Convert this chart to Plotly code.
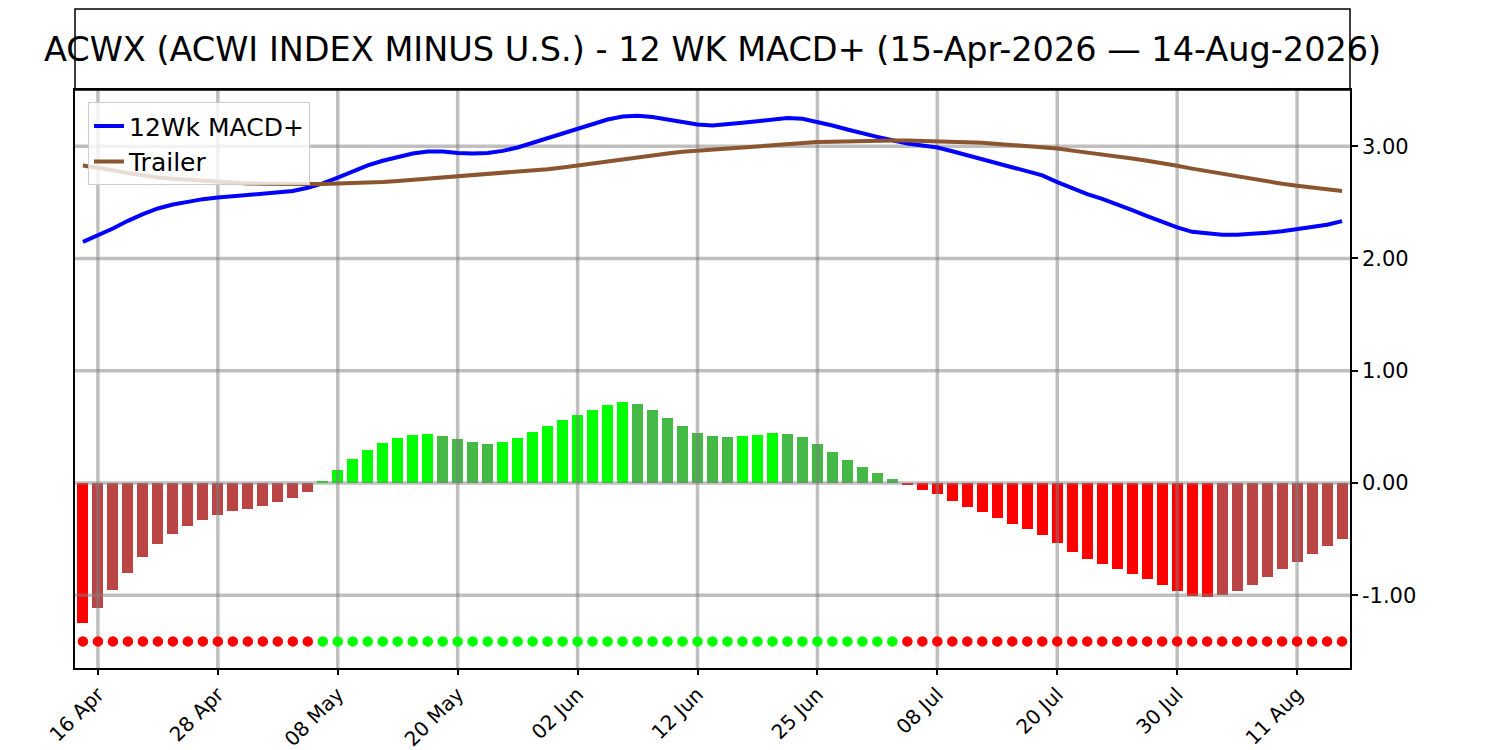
import pandas as pd
import plotly.graph_objects as go

TITLE = "ACWX (ACWI INDEX MINUS U.S.) - 12 WK MACD+ (15-Apr-2026 \u2014 14-Aug-2026)"
START, END = "2026-04-15", "2026-08-14"
HOLIDAYS = ["2026-05-25", "2026-06-19", "2026-07-03"]

hist = [-1.25, -1.11, -0.95, -0.80, -0.656, -0.54, -0.45, -0.38, -0.326, -0.282,
        -0.246, -0.228, -0.20, -0.166, -0.13, -0.077,
        0.018, 0.116, 0.214, 0.294, 0.356, 0.40, 0.427, 0.436,
        0.418, 0.39, 0.365, 0.347,
        0.365, 0.40, 0.454, 0.507, 0.56, 0.605, 0.65, 0.694, 0.721,
        0.703, 0.65, 0.579, 0.507, 0.445, 0.418, 0.41,
        0.418, 0.427, 0.445,
        0.436, 0.41, 0.347, 0.276, 0.205, 0.142, 0.089, 0.036,
        -0.02, -0.066, -0.10, -0.157, -0.21, -0.255, -0.309, -0.362, -0.407, -0.46,
        -0.531, -0.611, -0.674, -0.718, -0.763, -0.807, -0.852, -0.905, -0.958, -1.003,
        -1.012, -0.994, -0.958, -0.905, -0.834, -0.763, -0.70, -0.629, -0.558, -0.496]

macd = [2.148, 2.205, 2.267, 2.335, 2.395, 2.445, 2.48, 2.504, 2.528, 2.543,
        2.555, 2.56, 2.573, 2.587, 2.60, 2.63, 2.668, 2.72, 2.777, 2.828,
        2.87, 2.905, 2.935, 2.953, 2.953, 2.94, 2.935, 2.94, 2.958,
        2.988, 3.03, 3.074, 3.113, 3.15, 3.196, 3.237, 3.264, 3.27, 3.26,
        3.24, 3.214, 3.193, 3.184, 3.193, 3.208, 3.222, 3.237, 3.25, 3.243,
        3.217, 3.184, 3.148, 3.113, 3.083, 3.053, 3.024, 3.005,
        2.988, 2.955, 2.92, 2.884, 2.85, 2.81, 2.777, 2.74, 2.68, 2.623,
        2.573, 2.53, 2.484, 2.43, 2.377, 2.323, 2.276, 2.237, 2.22, 2.21,
        2.21, 2.217, 2.228, 2.243, 2.26, 2.28, 2.30, 2.332]

trailer = [2.828, 2.81, 2.786, 2.76, 2.74, 2.72, 2.71, 2.70, 2.69, 2.68,
           2.674, 2.668, 2.665, 2.662, 2.662, 2.662, 2.662, 2.665, 2.668, 2.674,
           2.68, 2.69, 2.70, 2.71, 2.718, 2.73, 2.74, 2.75, 2.763,
           2.775, 2.783, 2.795, 2.81, 2.828, 2.846, 2.866, 2.887, 2.905, 2.92,
           2.935, 2.95, 2.96, 2.97, 2.982, 2.99, 3.003, 3.012, 3.02, 3.03,
           3.036, 3.04, 3.044, 3.047, 3.05, 3.05, 3.05, 3.047,
           3.044, 3.04, 3.036, 3.03, 3.02, 3.012, 3.003, 2.99, 2.98, 2.96,
           2.944, 2.926, 2.908, 2.89, 2.87, 2.85, 2.825, 2.80, 2.777, 2.754,
           2.73, 2.706, 2.685, 2.665, 2.647, 2.632, 2.617, 2.60]

tick_labels = ["16 Apr", "28 Apr", "08 May", "20 May", "02 Jun", "12 Jun",
               "25 Jun", "08 Jul", "20 Jul", "30 Jul", "11 Aug"]
y_ticks = [-1, 0, 1, 2, 3]
DOT_LEVEL = -1.41

dates = [d for d in pd.bdate_range(START, END) if d.strftime("%Y-%m-%d") not in HOLIDAYS]
n = len(dates)
assert n == len(hist) == len(macd) == len(trailer), (n, len(hist), len(macd), len(trailer))
idx = list(range(n))
labels = [d.strftime("%d %b") for d in dates]
tick_idx = [labels.index(t) for t in tick_labels]

RED, DKRED, LIME, DKGREEN = "#ff0000", "#bb4545", "#00ff00", "#45b945"
bar_colors = []
for i, v in enumerate(hist):
    prev = hist[i - 1] if i > 0 else None
    if v < 0:
        bar_colors.append(RED if (prev is None or v < prev) else DKRED)
    else:
        bar_colors.append(LIME if (prev is None or v > prev) else DKGREEN)
dot_colors = [RED if v < 0 else LIME for v in hist]

Y_RANGE = [-1.647, 3.5]
X_RANGE = [-0.53, n - 1 + 0.53]

fig = go.Figure()
fig.add_trace(go.Bar(x=idx, y=hist, marker=dict(color=bar_colors, line=dict(width=0)),
                     width=0.73, showlegend=False))

# grid drawn above bars, below lines (as in the reference)
gx, gy = [], []
for t in tick_idx:
    gx += [t, t, None]
    gy += [Y_RANGE[0], Y_RANGE[1], None]
for t in y_ticks:
    gx += [X_RANGE[0], X_RANGE[1], None]
    gy += [t, t, None]
fig.add_trace(go.Scatter(x=gx, y=gy, mode="lines", line=dict(color="rgba(128,128,128,0.5)", width=3.5),
                         showlegend=False, hoverinfo="skip"))

fig.add_trace(go.Scatter(x=idx, y=macd, mode="lines", name="12Wk MACD+",
                         line=dict(color="#0000ff", width=4)))
fig.add_trace(go.Scatter(x=idx, y=trailer, mode="lines", name="Trailer",
                         line=dict(color="#8b5530", width=4)))
fig.add_trace(go.Scatter(x=idx, y=[DOT_LEVEL] * n, mode="markers", showlegend=False,
                         marker=dict(color=dot_colors, size=10.5, line=dict(width=0))))

# title box
fig.add_shape(type="rect", xref="paper", yref="paper", x0=0, x1=1, y0=1, y1=1.14,
              line=dict(color="black", width=1.5), fillcolor="rgba(0,0,0,0)")
fig.add_annotation(text=TITLE, xref="paper", yref="paper", x=0.5, y=1.07,
                   xanchor="center", yanchor="middle", showarrow=False,
                   font=dict(size=33.5, color="black"))

# page body adds an 8px offset; figure is sized to compensate
fig.update_layout(
    width=1492, height=742,
    margin=dict(l=67, r=150, t=82, b=82, autoexpand=False),
    paper_bgcolor="white", plot_bgcolor="white",
    font=dict(family="DejaVu Sans", color="black"),
    bargap=0,
    legend=dict(x=0.0102, y=0.979, xanchor="left", yanchor="top",
                bgcolor="rgba(255,255,255,0.8)", bordercolor="#cccccc", borderwidth=1,
                font=dict(size=25), tracegroupgap=0, itemwidth=30),
)
fig.update_xaxes(range=X_RANGE, tickmode="array", tickvals=tick_idx, ticktext=tick_labels,
                 tickangle=-45, showgrid=False, zeroline=False, showline=True, linecolor="black",
                 linewidth=1.5, mirror=True, ticks="outside", ticklen=5, tickwidth=1.5,
                 tickcolor="black", tickfont=dict(size=20), automargin=False)
fig.update_yaxes(range=Y_RANGE, side="right", tickmode="array", tickvals=y_ticks,
                 ticktext=[f"{v:.2f}" for v in y_ticks],
                 showgrid=False, zeroline=False, showline=True, linecolor="black", linewidth=1.5,
                 mirror=True, ticks="outside", ticklen=6, tickwidth=1.5, tickcolor="black",
                 tickfont=dict(size=21), automargin=False)

fig.write_html("out.html")
